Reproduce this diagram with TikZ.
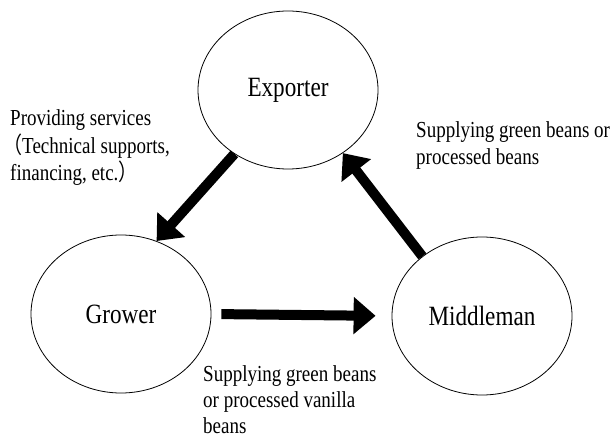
\documentclass[tikz,border=0pt]{standalone}
\usepackage{fontspec}
\setmainfont{Liberation Serif}[FakeStretch=0.83]
\newfontfamily\cjkfont{Noto Sans CJK JP}[FakeStretch=0.83]
\usetikzlibrary{arrows.meta,shapes.geometric}
\begin{document}
\begin{tikzpicture}[x=1bp,y=-1bp,
  actor/.style={ellipse,draw,line width=0.8bp,minimum width=180bp,
    minimum height=158bp,inner sep=0pt,font=\fontsize{28}{30}\selectfont},
  flow/.style={line width=10bp,-{Triangle[width=36bp,length=22bp]}},
  note/.style={anchor=base west,align=left,inner sep=0pt,
    font=\fontsize{23}{28}\selectfont}]
\fill[white] (0,0) rectangle (611,437);
\useasboundingbox (0,0) rectangle (611,437);

% the three actors
\node[actor] (exp) at (288,90)  {Exporter};
\node[actor] (gro) at (121,314) {Grower};
\node[actor] (mid) at (482,316) {Middleman};

% flows between them
\draw[flow] (exp.230) -- (gro.64);
\draw[flow] (mid.135) -- (exp.311.6);
\draw[flow,shorten <=10bp,shorten >=16bp] (gro.east) -- (mid.west);

% flow descriptions (anchored at the baseline of their last line)
\node[note] (svc) at (10,181)
  {Providing services\\
   \kern-7bp{\cjkfont （}Technical supports,\\
   financing, etc.{\cjkfont ）}};
\node[note] (up) at (416,165)
  {Supplying green beans or\\processed beans};
\node[note,font=\fontsize{23}{26}\selectfont] (down) at (203,433)
  {Supplying green beans\\or processed vanilla\\beans};
\end{tikzpicture}
\end{document}
